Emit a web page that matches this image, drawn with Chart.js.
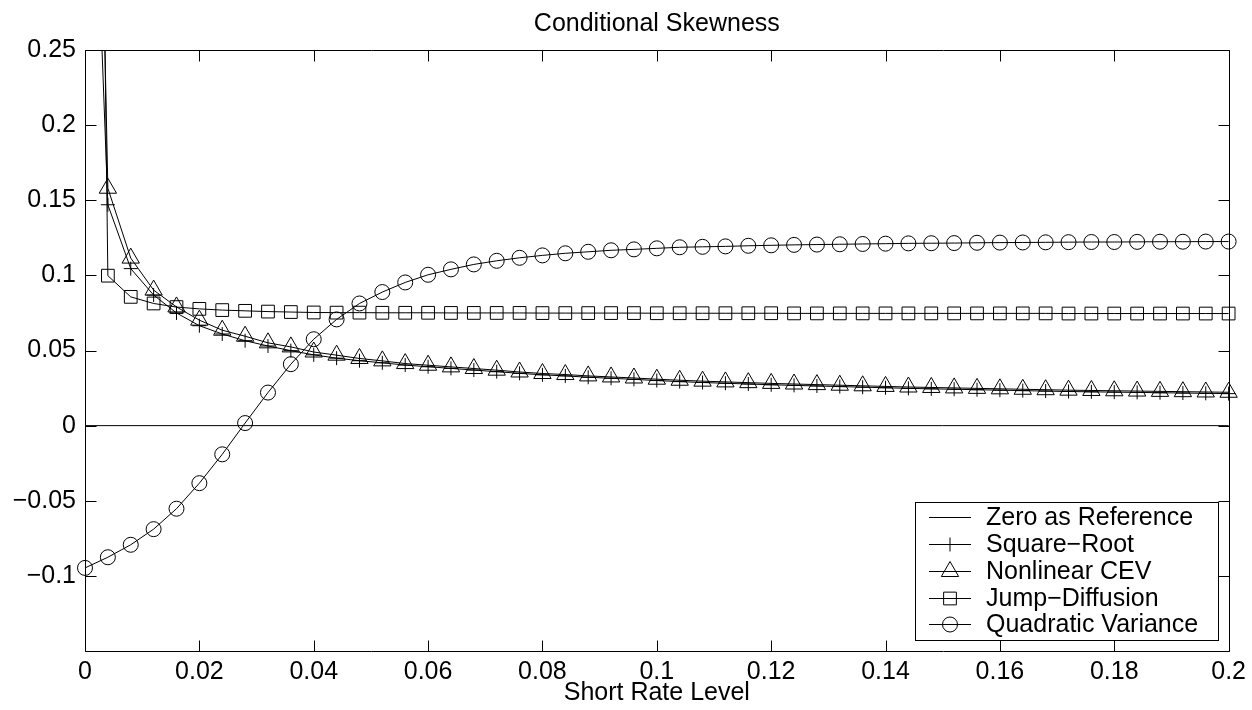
<!DOCTYPE html>
<html>
<head>
<meta charset="utf-8">
<script src="https://cdn.jsdelivr.net/npm/chart.js@4.4.1/dist/chart.umd.min.js"></script>
<style>
html,body{margin:0;padding:0;background:#fff;}
#wrap{width:1252px;height:710px;}
</style>
</head>
<body>
<div id="wrap"><canvas id="c" width="1252" height="710"></canvas></div>
<script>
// Short rate levels (x)
const shortRate = [0, 0.004, 0.008, 0.012, 0.016, 0.02, 0.024, 0.028, 0.032, 0.036,
  0.04, 0.044, 0.048, 0.052, 0.056, 0.06, 0.064, 0.068, 0.072, 0.076,
  0.08, 0.084, 0.088, 0.092, 0.096, 0.1, 0.104, 0.108, 0.112, 0.116,
  0.12, 0.124, 0.128, 0.132, 0.136, 0.14, 0.144, 0.148, 0.152, 0.156,
  0.16, 0.164, 0.168, 0.172, 0.176, 0.18, 0.184, 0.188, 0.192, 0.196, 0.2];

const zeroRefX = [0, 0.2];
const zeroRefY = [0, 0];

const squareRoot = [0.55, 0.147, 0.1045, 0.0869, 0.075, 0.0665, 0.061, 0.0565, 0.053, 0.0499,
  0.0471, 0.0449, 0.0432, 0.0418, 0.0403, 0.0392, 0.0381, 0.037, 0.0359, 0.0348,
  0.0338, 0.0331, 0.0322, 0.0315, 0.0308, 0.03, 0.0293, 0.0287, 0.0282, 0.0277,
  0.0272, 0.0268, 0.0264, 0.026, 0.0256, 0.0252, 0.0248, 0.0245, 0.0242, 0.0239,
  0.0236, 0.0233, 0.023, 0.0227, 0.0225, 0.0223, 0.0221, 0.0219, 0.0217, 0.0215, 0.0213];

const nonlinearCEV = [0.88, 0.158, 0.1115, 0.0902, 0.079, 0.0702, 0.0635, 0.0595, 0.0551, 0.0524,
  0.049, 0.0469, 0.0447, 0.0431, 0.0413, 0.0402, 0.0391, 0.038, 0.0369, 0.0357,
  0.0347, 0.034, 0.0331, 0.0324, 0.0317, 0.0309, 0.0302, 0.0296, 0.0291, 0.0286,
  0.0281, 0.0277, 0.0273, 0.0269, 0.0265, 0.0261, 0.0257, 0.0254, 0.0251, 0.0248,
  0.0245, 0.0242, 0.0239, 0.0236, 0.0234, 0.0232, 0.023, 0.0228, 0.0226, 0.0224, 0.0222];

const jumpDiffusion = [1.3, 0.0998, 0.0857, 0.0813, 0.0789, 0.0777, 0.0769, 0.0764, 0.0759, 0.0756,
  0.0753, 0.0752, 0.0752, 0.0751, 0.0751, 0.0751, 0.075, 0.075, 0.075, 0.075,
  0.0749, 0.0749, 0.0749, 0.0749, 0.0749, 0.0748, 0.0748, 0.0748, 0.0748, 0.0748,
  0.0748, 0.0747, 0.0747, 0.0747, 0.0747, 0.0747, 0.0747, 0.0747, 0.0747, 0.0747,
  0.0747, 0.0747, 0.0747, 0.0746, 0.0746, 0.0746, 0.0746, 0.0746, 0.0746, 0.0746, 0.0746];

const quadraticVariance = [-0.0947, -0.0876, -0.0793, -0.0689, -0.0553, -0.0383, -0.0191, 0.0017, 0.022, 0.0409,
  0.0575, 0.0707, 0.0813, 0.0889, 0.0953, 0.1004, 0.104, 0.1073, 0.1097, 0.1117,
  0.1133, 0.1147, 0.1157, 0.1167, 0.1173, 0.118, 0.1187, 0.119, 0.1193, 0.1197,
  0.12, 0.1203, 0.1205, 0.1207, 0.1209, 0.1211, 0.1213, 0.1214, 0.1215, 0.1217,
  0.1218, 0.1219, 0.122, 0.1221, 0.1222, 0.1222, 0.1223, 0.1224, 0.1224, 0.1225, 0.1225];

const seriesNames = ['Zero as Reference', 'Square\u2212Root', 'Nonlinear CEV', 'Jump\u2212Diffusion', 'Quadratic Variance'];
const chartTitle = 'Conditional Skewness';
const xAxisTitle = 'Short Rate Level';
const xTickValues = [0, 0.02, 0.04, 0.06, 0.08, 0.1, 0.12, 0.14, 0.16, 0.18, 0.2];
const yTickValues = [-0.15, -0.1, -0.05, 0, 0.05, 0.1, 0.15, 0.2, 0.25];
const yTickHidden = [-0.15];

function pts(xs, ys) { return xs.map((x, i) => ({ x: x, y: ys[i] })); }
function fmt(v) {
  const s = String(parseFloat(Number(v).toFixed(4)));
  return s.replace('-', '\u2212');
}

const FONT = "'Liberation Sans', Arial, Helvetica, sans-serif";
const FS = 25;
Chart.defaults.font.family = FONT;
Chart.defaults.color = '#000';

const base = { borderColor: '#000', borderWidth: 1, pointBorderColor: '#000',
  pointBackgroundColor: 'rgba(0,0,0,0)', pointBorderWidth: 1, tension: 0, fill: false,
  pointHoverRadius: 0, clip: { left: 12, right: 12, top: 0, bottom: 0 } };

const datasets = [
  Object.assign({}, base, { label: seriesNames[0], data: pts(zeroRefX, zeroRefY), pointRadius: 0, pointStyle: false }),
  Object.assign({}, base, { label: seriesNames[1], data: pts(shortRate, squareRoot), pointStyle: 'cross', pointRadius: 7 }),
  Object.assign({}, base, { label: seriesNames[2], data: pts(shortRate, nonlinearCEV), pointStyle: 'triangle', pointRadius: 10 }),
  Object.assign({}, base, { label: seriesNames[3], data: pts(shortRate, jumpDiffusion), pointStyle: 'rect', pointRadius: 9 }),
  Object.assign({}, base, { label: seriesNames[4], data: pts(shortRate, quadraticVariance), pointStyle: 'circle', pointRadius: 7.5 })
];

const framePlugin = {
  id: 'frame',
  afterDatasetsDraw(chart) {
    const ctx = chart.ctx, a = chart.chartArea;
    const xs = chart.scales.x, ys = chart.scales.y;
    const L = Math.round(a.left) + 0.5, R = Math.round(a.right) + 0.5;
    const T = Math.round(a.top) + 0.5, B = Math.round(a.bottom) + 0.5;
    const tl = 11;
    ctx.save();
    ctx.strokeStyle = '#000';
    ctx.lineWidth = 1;
    ctx.beginPath();
    ctx.rect(L, T, R - L, B - T);
    xTickValues.forEach(v => {
      const px = Math.round(xs.getPixelForValue(v)) + 0.5;
      ctx.moveTo(px, B); ctx.lineTo(px, B - tl);
      ctx.moveTo(px, T); ctx.lineTo(px, T + tl);
    });
    yTickValues.forEach(v => {
      const py = Math.round(ys.getPixelForValue(v)) + 0.5;
      ctx.moveTo(L, py); ctx.lineTo(L + tl, py);
      ctx.moveTo(R, py); ctx.lineTo(R - tl, py);
    });
    ctx.stroke();

    // title centred over the plot
    ctx.font = FS + 'px ' + FONT;
    ctx.fillStyle = '#000';
    ctx.textAlign = 'center';
    ctx.textBaseline = 'middle';
    ctx.fillText(chartTitle, (a.left + a.right) / 2, 24);

    // legend box
    const bx = 915.5, by = 502.5, bw = 303, bh = 138;
    ctx.fillStyle = '#fff';
    ctx.fillRect(bx, by, bw, bh);
    ctx.strokeRect(bx, by, bw, bh);
    const rowY = [517, 544, 571, 598, 624];
    ctx.textAlign = 'left';
    chart.data.datasets.forEach((ds, i) => {
      const y = rowY[i] + 0.5;
      ctx.strokeStyle = '#000';
      ctx.lineWidth = 1;
      ctx.beginPath();
      ctx.moveTo(929, y); ctx.lineTo(971, y);
      ctx.stroke();
      if (ds.pointStyle) {
        ctx.fillStyle = 'rgba(0,0,0,0)';
        Chart.helpers.drawPoint(ctx, { pointStyle: ds.pointStyle, radius: ds.pointRadius, borderWidth: 1, rotation: 0 }, 950, y);
      }
      ctx.fillStyle = '#000';
      ctx.fillText(ds.label, 986, rowY[i] + 1);
    });
    ctx.restore();
  }
};

new Chart(document.getElementById('c'), {
  type: 'line',
  data: { datasets: datasets },
  options: {
    responsive: false,
    devicePixelRatio: 1,
    animation: false,
    events: [],
    layout: { padding: { left: 0, right: 21, top: 50, bottom: 0 } },
    plugins: {
      legend: { display: false },
      tooltip: { enabled: false },
      title: { display: false }
    },
    scales: {
      x: {
        type: 'linear', min: 0, max: 0.2,
        afterFit: s => { s.height = 59; },
        afterBuildTicks: s => { s.ticks = xTickValues.map(v => ({ value: v })); },
        grid: { display: false, drawTicks: false },
        border: { display: false },
        ticks: { padding: 6, font: { size: FS }, color: '#000', maxRotation: 0, autoSkip: false,
          callback: v => fmt(v) },
        title: { display: true, text: xAxisTitle, color: '#000', font: { size: FS },
          padding: { top: 0, bottom: 2 } }
      },
      y: {
        type: 'linear', min: -0.15, max: 0.25,
        afterFit: s => { s.width = 85; },
        afterBuildTicks: s => { s.ticks = yTickValues.map(v => ({ value: v })); },
        grid: { display: false, drawTicks: false },
        border: { display: false },
        ticks: { padding: 9, font: { size: FS }, color: '#000', autoSkip: false,
          callback: v => (yTickHidden.some(h => Math.abs(h - v) < 1e-9) ? '' : fmt(v)) }
      }
    }
  },
  plugins: [framePlugin]
});
</script>
</body>
</html>
